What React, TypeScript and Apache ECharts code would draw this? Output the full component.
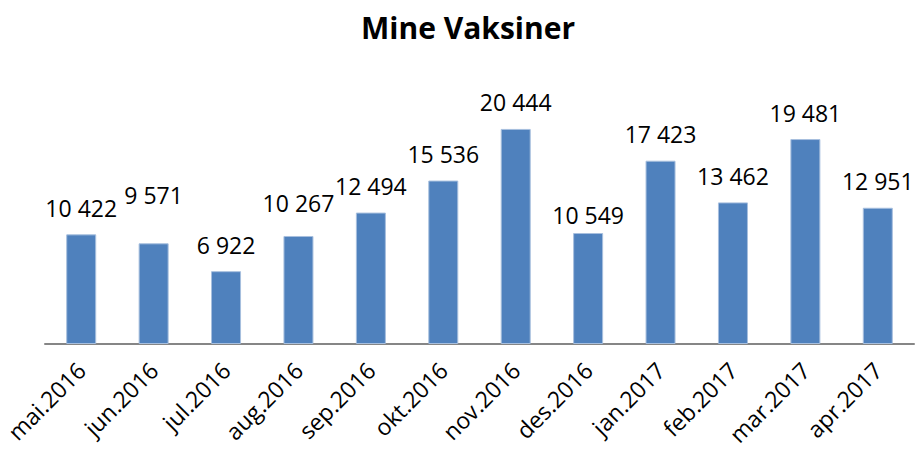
import React, { useEffect, useRef } from "react";
import * as echarts from "echarts";

const categories = [
  "mai.2016", "jun.2016", "jul.2016", "aug.2016", "sep.2016", "okt.2016",
  "nov.2016", "des.2016", "jan.2017", "feb.2017", "mar.2017", "apr.2017",
];
const values = [10422, 9571, 6922, 10267, 12494, 15536, 20444, 10549, 17423, 13462, 19481, 12951];
const title = "Mine Vaksiner";

// label nudges (vertical, px) as seen in the reference
const labelNudge: Record<string, number> = { "jun.2016": -22, "aug.2016": -6, "des.2016": 8 };

const fmt = (v: number) => String(v).replace(/\B(?=(\d{3})+(?!\d))/g, " ");

export default function App() {
  const ref = useRef<HTMLDivElement>(null);
  useEffect(() => {
    if (!ref.current) return;
    const chart = echarts.init(ref.current, undefined, { renderer: "svg" });
    chart.setOption({
      animation: false,
      backgroundColor: "#ffffff",
      title: {
        text: title,
        left: 463,
        top: 7,
        textAlign: "center",
        textStyle: { fontFamily: "Open Sans", fontWeight: "bold", fontSize: 30, color: "#000000" },
      },
      grid: { left: 45, right: 4, top: 81, bottom: 106, containLabel: false },
      xAxis: {
        type: "category",
        data: categories,
        axisLine: { lineStyle: { color: "#868686", width: 2 } },
        axisTick: { show: false },
        axisLabel: {
          rotate: 45,
          interval: 0,
          margin: 22,
          fontFamily: "Open Sans",
          fontSize: 23,
          color: "#000000",
        },
      },
      yAxis: {
        type: "value",
        min: 0,
        max: 25000,
        show: false,
        splitLine: { show: false },
      },
      series: [
        {
          type: "bar",
          barWidth: 30,
          data: values.map((v, i) => ({
            value: v,
            label: { offset: [0, labelNudge[categories[i]] || 0] },
          })),
          itemStyle: { color: "#4F81BD", borderColor: "#a7bfde", borderWidth: 1 },
          label: {
            show: true,
            position: "top",
            distance: 15,
            fontFamily: "Open Sans",
            fontSize: 23,
            color: "#000000",
            formatter: (p: any) => fmt(p.value),
          },
        },
      ],
    });
    return () => chart.dispose();
  }, []);
  return (
    <div
      ref={ref}
      style={{ position: "absolute", left: 0, top: 0, width: 918, height: 450 }}
    />
  );
}
